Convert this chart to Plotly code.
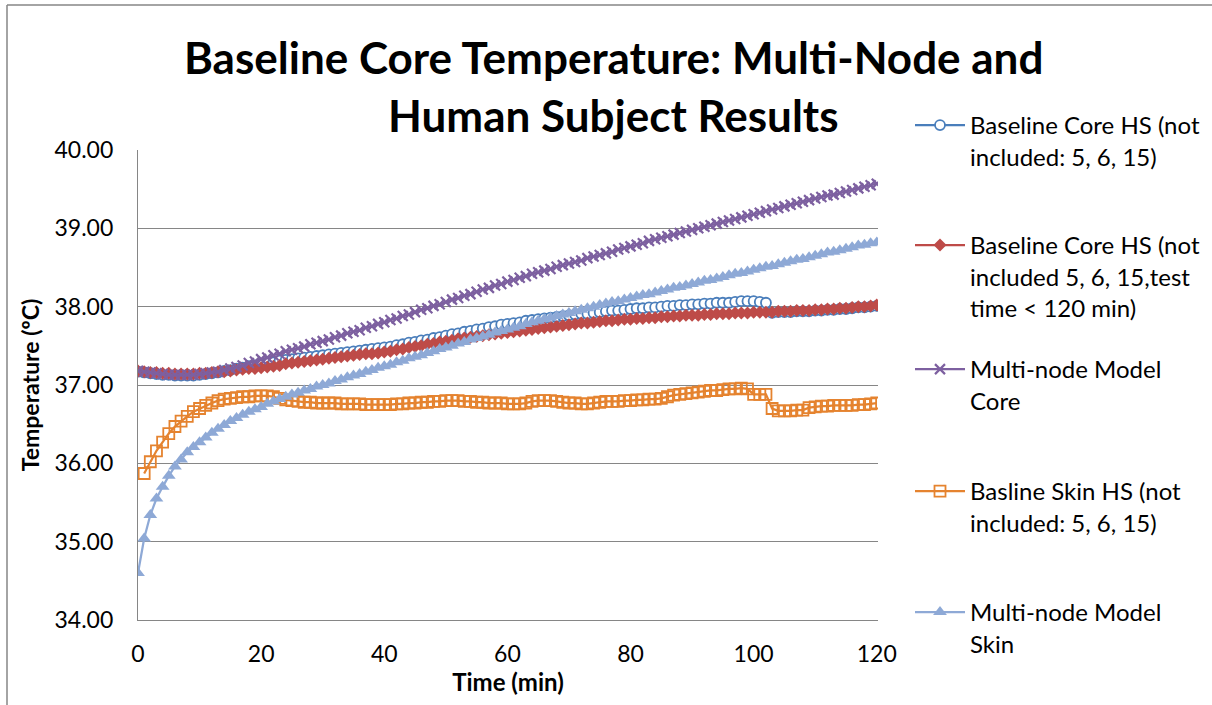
import plotly.graph_objects as go

# Time axis (minutes)
minutes = list(range(0, 121))

# Baseline core temperature, human subjects (not included: 5, 6, 15)
core_hs = [
    37.17, 37.16, 37.15, 37.14, 37.13, 37.13, 37.12, 37.12, 37.12, 37.12,
    37.13, 37.14, 37.15, 37.16, 37.18, 37.19, 37.21, 37.22, 37.24, 37.25,
    37.27, 37.28, 37.29, 37.31, 37.32, 37.33, 37.34, 37.35, 37.36, 37.37,
    37.38, 37.39, 37.40, 37.41, 37.42, 37.43, 37.44, 37.45, 37.46, 37.47,
    37.48, 37.49, 37.51, 37.52, 37.54, 37.55, 37.57, 37.58, 37.60, 37.61,
    37.63, 37.65, 37.66, 37.68, 37.69, 37.71, 37.72, 37.74, 37.75, 37.77,
    37.78, 37.79, 37.80, 37.82, 37.83, 37.84, 37.85, 37.86, 37.87, 37.88,
    37.89, 37.90, 37.91, 37.91, 37.92, 37.93, 37.94, 37.95, 37.95, 37.96,
    37.97, 37.98, 37.98, 37.99, 37.99, 38.00, 38.01, 38.01, 38.02, 38.02,
    38.03, 38.03, 38.04, 38.04, 38.05, 38.05, 38.05, 38.06, 38.07, 38.07,
    38.07, 38.06, 38.05, 37.92, 37.93, 37.93, 37.93, 37.94, 37.94, 37.94,
    37.95, 37.95, 37.96, 37.96, 37.97, 37.97, 37.98, 37.99, 37.99, 38.00,
    38.01,
]

# Baseline core temperature, human subjects (also excluding test time < 120 min)
core_hs_full = [
    37.18, 37.17, 37.16, 37.16, 37.15, 37.15, 37.14, 37.14, 37.14, 37.14,
    37.15, 37.15, 37.16, 37.17, 37.17, 37.18, 37.19, 37.20, 37.21, 37.21,
    37.22, 37.23, 37.24, 37.25, 37.27, 37.28, 37.29, 37.30, 37.31, 37.32,
    37.33, 37.34, 37.35, 37.36, 37.37, 37.38, 37.39, 37.40, 37.40, 37.41,
    37.42, 37.43, 37.45, 37.46, 37.48, 37.49, 37.50, 37.52, 37.53, 37.55,
    37.56, 37.57, 37.59, 37.60, 37.61, 37.62, 37.63, 37.64, 37.65, 37.66,
    37.67, 37.68, 37.69, 37.70, 37.71, 37.72, 37.73, 37.74, 37.75, 37.76,
    37.77, 37.78, 37.79, 37.79, 37.80, 37.81, 37.82, 37.82, 37.83, 37.84,
    37.84, 37.85, 37.85, 37.86, 37.86, 37.87, 37.87, 37.88, 37.88, 37.89,
    37.89, 37.89, 37.90, 37.90, 37.91, 37.91, 37.91, 37.92, 37.92, 37.92,
    37.93, 37.93, 37.93, 37.93, 37.94, 37.94, 37.94, 37.95, 37.95, 37.95,
    37.96, 37.96, 37.97, 37.97, 37.98, 37.98, 37.99, 38.00, 38.00, 38.01,
    38.02,
]

# Multi-node model, core
model_core = [
    37.18, 37.17, 37.16, 37.15, 37.14, 37.13, 37.13, 37.13, 37.13, 37.13,
    37.14, 37.15, 37.16, 37.17, 37.19, 37.21, 37.23, 37.25, 37.28, 37.30,
    37.33, 37.35, 37.38, 37.40, 37.43, 37.45, 37.47, 37.49, 37.52, 37.54,
    37.56, 37.58, 37.61, 37.63, 37.66, 37.68, 37.70, 37.73, 37.75, 37.78,
    37.80, 37.83, 37.85, 37.88, 37.90, 37.93, 37.96, 37.98, 38.01, 38.03,
    38.06, 38.09, 38.11, 38.14, 38.16, 38.19, 38.22, 38.24, 38.27, 38.29,
    38.32, 38.34, 38.37, 38.39, 38.42, 38.44, 38.46, 38.48, 38.51, 38.53,
    38.55, 38.57, 38.59, 38.62, 38.64, 38.66, 38.68, 38.70, 38.73, 38.75,
    38.77, 38.79, 38.81, 38.84, 38.86, 38.88, 38.90, 38.92, 38.94, 38.96,
    38.98, 39.00, 39.02, 39.04, 39.06, 39.08, 39.10, 39.12, 39.14, 39.16,
    39.18, 39.20, 39.22, 39.24, 39.26, 39.28, 39.30, 39.32, 39.34, 39.36,
    39.38, 39.40, 39.42, 39.43, 39.45, 39.47, 39.49, 39.51, 39.53, 39.55,
    39.57,
]

# Baseline skin temperature, human subjects (no reading at minute 0)
skin_hs = [
    None, 35.87, 36.02, 36.16, 36.27, 36.38, 36.47, 36.54, 36.60, 36.66,
    36.70, 36.74, 36.77, 36.80, 36.82, 36.83, 36.84, 36.85, 36.85, 36.86,
    36.86, 36.86, 36.85, 36.83, 36.81, 36.80, 36.79, 36.78, 36.78, 36.77,
    36.77, 36.77, 36.77, 36.76, 36.76, 36.76, 36.76, 36.75, 36.75, 36.75,
    36.75, 36.75, 36.76, 36.76, 36.77, 36.77, 36.78, 36.78, 36.79, 36.79,
    36.80, 36.80, 36.80, 36.79, 36.79, 36.78, 36.78, 36.77, 36.77, 36.77,
    36.76, 36.76, 36.76, 36.77, 36.79, 36.80, 36.80, 36.80, 36.79, 36.78,
    36.77, 36.77, 36.76, 36.76, 36.77, 36.78, 36.79, 36.79, 36.79, 36.80,
    36.80, 36.81, 36.81, 36.82, 36.82, 36.83, 36.85, 36.87, 36.88, 36.89,
    36.90, 36.91, 36.92, 36.93, 36.93, 36.94, 36.95, 36.95, 36.96, 36.95,
    36.88, 36.88, 36.88, 36.70, 36.67, 36.67, 36.67, 36.68, 36.68, 36.71,
    36.72, 36.73, 36.73, 36.74, 36.74, 36.74, 36.74, 36.75, 36.75, 36.76,
    36.77,
]

# Multi-node model, skin
model_skin = [
    34.60, 35.04, 35.34, 35.55, 35.70, 35.84, 35.96, 36.05, 36.14, 36.21,
    36.27, 36.33, 36.39, 36.44, 36.49, 36.54, 36.58, 36.62, 36.66, 36.69,
    36.72, 36.76, 36.79, 36.82, 36.85, 36.88, 36.90, 36.93, 36.95, 36.98,
    37.00, 37.02, 37.05, 37.07, 37.10, 37.12, 37.14, 37.17, 37.19, 37.22,
    37.24, 37.26, 37.29, 37.31, 37.34, 37.36, 37.38, 37.41, 37.43, 37.46,
    37.48, 37.50, 37.53, 37.55, 37.58, 37.60, 37.62, 37.64, 37.67, 37.69,
    37.71, 37.73, 37.75, 37.78, 37.80, 37.82, 37.84, 37.86, 37.88, 37.90,
    37.92, 37.94, 37.96, 37.98, 38.00, 38.02, 38.04, 38.06, 38.07, 38.09,
    38.11, 38.13, 38.15, 38.16, 38.18, 38.20, 38.22, 38.24, 38.25, 38.27,
    38.29, 38.31, 38.33, 38.34, 38.36, 38.38, 38.40, 38.42, 38.43, 38.45,
    38.47, 38.49, 38.51, 38.52, 38.54, 38.56, 38.58, 38.60, 38.61, 38.63,
    38.65, 38.67, 38.69, 38.70, 38.72, 38.74, 38.76, 38.78, 38.79, 38.81,
    38.82,
]

series_names = [
    "Baseline Core HS (not<br>included: 5, 6, 15)",
    "Baseline Core HS (not<br>included 5, 6, 15,test<br>time < 120 min)",
    "Multi-node Model<br>Core",
    "Basline Skin HS (not<br>included: 5, 6, 15)",
    "Multi-node Model<br>Skin",
]

title_lines = [
    "Baseline Core Temperature: Multi-Node and",
    "Human Subject Results",
]

x_ticks = [0, 20, 40, 60, 80, 100, 120]
y_ticks = [34, 35, 36, 37, 38, 39, 40]
y_tick_text = ["34.00", "35.00", "36.00", "37.00", "38.00", "39.00", "40.00"]

FONT = "Lato, 'Open Sans', sans-serif"
GRID = "#868686"

W, H = 1212, 705
L, R, T, B = 138, 334, 150, 85
PW, PH = W - L - R, H - T - B


def px_x(px):
    return (px - L) / PW


def px_y(py):
    return (H - B - py) / PH


styles = [
    dict(line=dict(color="#4A7EBB", width=2.25),
         marker=dict(symbol="circle", size=10, color="white",
                     line=dict(color="#4A7EBB", width=1.8))),
    dict(line=dict(color="#BE4B48", width=2.25),
         marker=dict(symbol="diamond", size=10, color="#BE4B48",
                     line=dict(color="#BE4B48", width=0))),
    dict(line=dict(color="#7D60A0", width=2.25),
         marker=dict(symbol="x-thin", size=10, color="#7D60A0",
                     line=dict(color="#7D60A0", width=2.2))),
    dict(line=dict(color="#E5832F", width=2.25),
         marker=dict(symbol="square-open", size=11, color="#E5832F",
                     line=dict(color="#E5832F", width=1.8))),
    dict(line=dict(color="#8EA9D6", width=2.25),
         marker=dict(symbol="triangle-up", size=12, color="#8EA9D6",
                     line=dict(color="#8EA9D6", width=0))),
]

all_series = [core_hs, core_hs_full, model_core, skin_hs, model_skin]
legend_tops = [103, 223, 347, 469, 590]

fig = go.Figure()
for i, (vals, name, st) in enumerate(zip(all_series, series_names, styles)):
    legend_id = "legend" if i == 0 else f"legend{i + 1}"
    fig.add_trace(go.Scatter(
        x=minutes, y=vals, name=name, mode="lines+markers",
        line=st["line"], marker=st["marker"], legend=legend_id,
        connectgaps=False,
    ))

legend_common = dict(
    x=px_x(910), xanchor="left", yanchor="top",
    font=dict(family=FONT, size=24, color="#000000"),
    bgcolor="rgba(0,0,0,0)", borderwidth=0,
    itemwidth=50, valign="top", tracegroupgap=0,
)
legend_layout = {}
for i, top in enumerate(legend_tops):
    key = "legend" if i == 0 else f"legend{i + 1}"
    legend_layout[key] = dict(legend_common, y=px_y(top))

fig.update_layout(
    width=W, height=H,
    margin=dict(l=L, r=R, t=T, b=B, autoexpand=False),
    paper_bgcolor="white", plot_bgcolor="white",
    showlegend=True,
    xaxis=dict(
        range=[0, 120.2], tickvals=x_ticks, ticktext=[str(v) for v in x_ticks],
        showgrid=False, zeroline=False,
        showline=True, linecolor=GRID, linewidth=1.3,
        ticks="", ticklabelstandoff=13,
        tickfont=dict(family=FONT, size=23, color="#000000"),
        title=dict(text="<b>Time (min)</b>", standoff=6,
                   font=dict(family=FONT, size=24, color="#000000")),
    ),
    yaxis=dict(
        range=[34, 40], tickvals=y_ticks, ticktext=y_tick_text,
        showgrid=True, gridcolor=GRID, gridwidth=1.3,
        zeroline=False, showline=True, linecolor=GRID, linewidth=1.3,
        ticks="", ticklabelstandoff=19,
        tickfont=dict(family=FONT, size=23, color="#000000"),
        title=dict(text="<b>Temperature (ºC)</b>", standoff=8,
                   font=dict(family=FONT, size=23, color="#000000")),
    ),
    **legend_layout,
)

# Two-line chart title
for line_text, cy in zip(title_lines, [57, 115]):
    fig.add_annotation(
        text=f"<b>{line_text}</b>", xref="paper", yref="paper",
        x=px_x(613), y=px_y(cy), xanchor="center", yanchor="middle",
        showarrow=False, font=dict(family=FONT, size=44, color="#000000"),
    )

# Chart-area frame along the left and top edges
fig.add_shape(type="line", xref="paper", yref="paper",
              x0=px_x(7), y0=px_y(5), x1=px_x(W + 2), y1=px_y(5),
              line=dict(color=GRID, width=1.5))
fig.add_shape(type="line", xref="paper", yref="paper",
              x0=px_x(7), y0=px_y(5), x1=px_x(7), y1=px_y(H + 2),
              line=dict(color=GRID, width=1.5))

fig.write_html("out.html")
